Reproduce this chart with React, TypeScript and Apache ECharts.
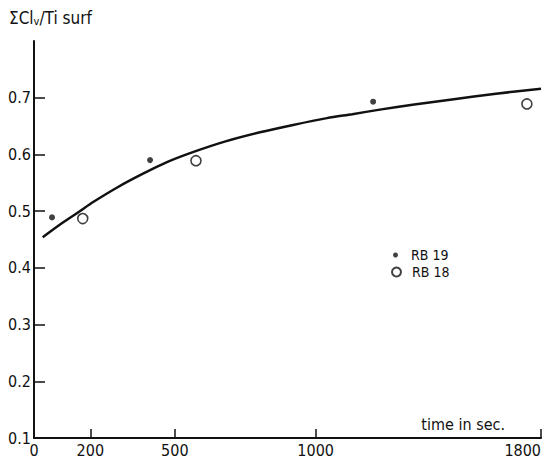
import React, { useEffect, useRef } from "react";
import * as echarts from "echarts";

// Reference curve: time in sec, ΣCl/Ti surf
const curveTime = [31, 100, 160, 210, 300, 387, 470, 564, 680, 802, 920, 1040, 1130, 1228, 1350, 1484, 1640, 1800];
const curveValue = [0.454, 0.479, 0.499, 0.516, 0.543, 0.566, 0.586, 0.604, 0.623, 0.639, 0.652, 0.664, 0.671, 0.679, 0.688, 0.697, 0.707, 0.716];

// RB 19 (filled dots)
const rb19Time = [64, 412, 1204];
const rb19Value = [0.489, 0.59, 0.693];

// RB 18 (open circles)
const rb18Time = [173, 575, 1750];
const rb18Value = [0.487, 0.589, 0.689];

// Axis labels / ticks
const xLabelValues = [0, 200, 500, 1000, 1800];
const xTickValues = [200, 500, 1000, 1800];
const yLabelValues = [0.1, 0.2, 0.3, 0.4, 0.5, 0.6, 0.7];
const yTickValues = [0.2, 0.3, 0.4, 0.5, 0.6, 0.7];

const FONT = "'Liberation Sans Narrow', 'DejaVu Sans Condensed', 'Liberation Sans', sans-serif";

export default function App() {
  const ref = useRef<HTMLDivElement>(null);
  useEffect(() => {
    if (!ref.current) return;
    const chart = echarts.init(ref.current, undefined, { renderer: "svg" });
    const zip = (a: number[], b: number[]) => a.map((v, i) => [v, b[i]]);
    chart.setOption({
      animation: false,
      backgroundColor: "#fff",
      title: {
        text: "ΣCl{sub|v}/Ti surf",
        left: 9,
        top: 9,
        padding: 0,
        textStyle: {
          fontFamily: FONT,
          fontSize: 17,
          fontWeight: "normal",
          color: "#111",
          rich: {
            sub: { fontFamily: FONT, fontSize: 11, color: "#111", padding: [7, 0, 0, 0] },
          },
        },
      },
      legend: [
        {
          data: ["RB 19"],
          left: 393,
          top: 248,
          itemWidth: 5,
          itemHeight: 5,
          icon: "circle",
          textStyle: { fontFamily: FONT, fontSize: 14, lineHeight: 14, color: "#111", padding: [0, 0, 0, 8] },
          padding: 0,
        },
        {
          data: ["RB 18"],
          left: 391,
          top: 265,
          itemWidth: 9,
          itemHeight: 9,
          icon: "circle",
          textStyle: { fontFamily: FONT, fontSize: 14, lineHeight: 14, color: "#111", padding: [0, 0, 0, 6] },
          padding: 0,
        },
      ],
      grid: { left: 34, right: 4, top: 41, bottom: 27, containLabel: false },
      xAxis: {
        type: "value",
        min: 0,
        max: 1800,
        name: "time in sec.",
        nameLocation: "end",
        nameGap: -36,
        nameTextStyle: {
          fontFamily: FONT,
          fontSize: 16,
          color: "#111",
          align: "right",
          verticalAlign: "bottom",
          padding: [0, 0, 6, 0],
        },
        axisLine: { lineStyle: { color: "#111", width: 2 } },
        axisTick: { show: true, inside: true, length: 9, customValues: xTickValues, lineStyle: { color: "#111", width: 1.5 } },
        axisLabel: {
          customValues: xLabelValues,
          fontFamily: FONT,
          fontSize: 16,
          color: "#111",
          margin: 4,
          alignMaxLabel: "right",
          showMaxLabel: true,
          formatter: (v: number) => String(Math.round(v)),
        },
        splitLine: { show: false },
      },
      yAxis: {
        type: "value",
        min: 0.1,
        max: 0.8,
        axisLine: { lineStyle: { color: "#111", width: 2 } },
        axisTick: { show: true, inside: true, length: 11, customValues: yTickValues, lineStyle: { color: "#111", width: 1.5 } },
        axisLabel: {
          customValues: yLabelValues,
          fontFamily: FONT,
          fontSize: 16,
          color: "#111",
          margin: 3,
          formatter: (v: number) => v.toFixed(1),
        },
        splitLine: { show: false },
      },
      series: [
        {
          name: "curve",
          type: "line",
          data: zip(curveTime, curveValue),
          smooth: 0.3,
          showSymbol: false,
          lineStyle: { color: "#111", width: 2.5 },
          silent: true,
        },
        {
          name: "RB 19",
          type: "scatter",
          data: zip(rb19Time, rb19Value),
          symbol: "circle",
          symbolSize: 6,
          itemStyle: { color: "#111" },
        },
        {
          name: "RB 18",
          type: "scatter",
          data: zip(rb18Time, rb18Value),
          symbol: "circle",
          symbolSize: 10,
          itemStyle: { color: "#fff", borderColor: "#111", borderWidth: 1.6 },
        },
      ],
    });
    return () => chart.dispose();
  }, []);
  return (
    <div
      ref={ref}
      style={{ position: "fixed", left: 0, top: 0, width: 545, height: 465 }}
    />
  );
}
